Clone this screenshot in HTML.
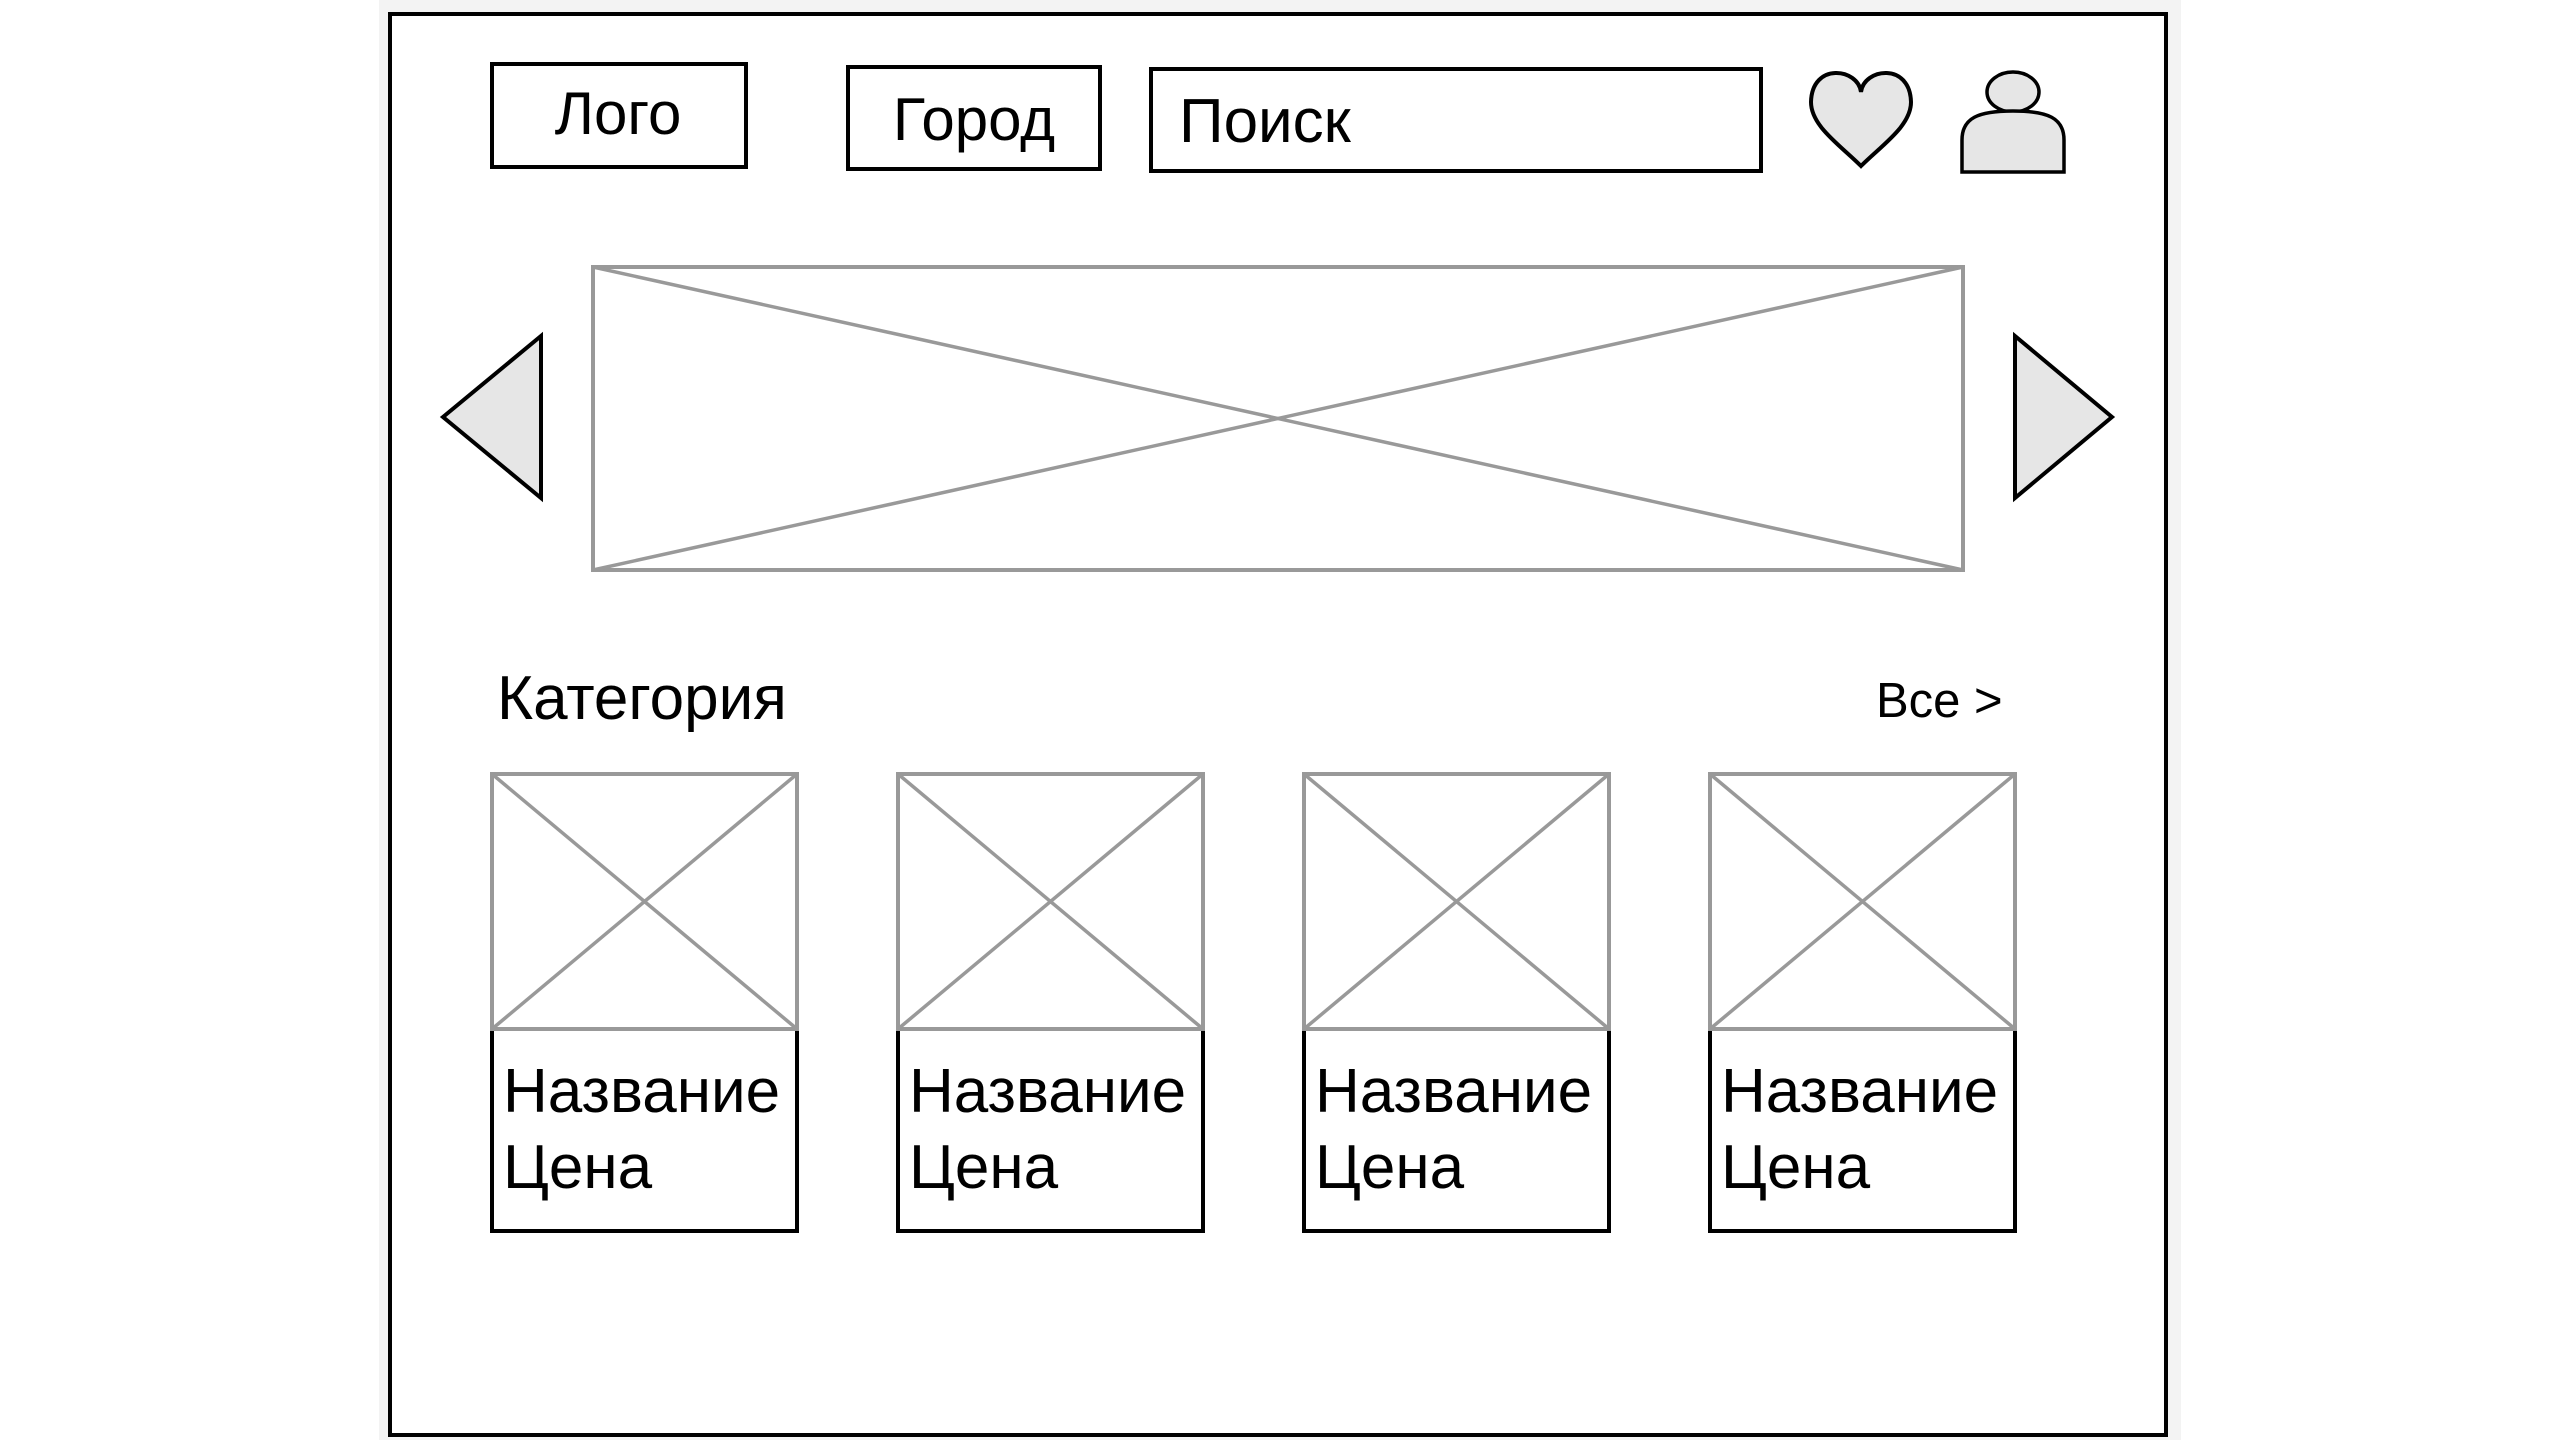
<!DOCTYPE html>
<html><head><meta charset="utf-8"><style>
html,body{margin:0;padding:0;background:#fff;width:2560px;height:1440px;overflow:hidden}
svg{display:block}
text{font-family:"Liberation Sans",Arial,sans-serif;fill:#000}
</style></head><body>
<svg width="2560" height="1440" viewBox="0 0 2560 1440" xmlns="http://www.w3.org/2000/svg">
<rect x="379" y="0" width="1802" height="1440" fill="#f3f3f3"/>
<rect x="390" y="14" width="1776" height="1421" fill="#fff" stroke="#000" stroke-width="4"/>
<!-- header -->
<rect x="492" y="64" width="254" height="103" fill="#fff" stroke="#000" stroke-width="4"/>
<text x="618" y="134" font-size="60" text-anchor="middle">Лого</text>
<rect x="848" y="67" width="252" height="102" fill="#fff" stroke="#000" stroke-width="4"/>
<text x="974" y="140" font-size="60" text-anchor="middle">Город</text>
<rect x="1151" y="69" width="610" height="102" fill="#fff" stroke="#000" stroke-width="4"/>
<text x="1179" y="142" font-size="62">Поиск</text>
<!-- heart -->
<path d="M1861,92 C1858,68 1812,62 1811,102 C1811,126 1840,145 1861,166 C1882,145 1911,126 1911,102 C1910,62 1864,68 1861,92 Z" fill="#e6e6e6" stroke="#000" stroke-width="4"/>
<!-- person -->
<ellipse cx="2013" cy="92" rx="26" ry="20" fill="#e6e6e6" stroke="#000" stroke-width="3.5"/>
<path d="M1962,172 L1962,140 C1962,118 1978,111 2013,111 C2048,111 2064,118 2064,140 L2064,172 Z" fill="#e6e6e6" stroke="#000" stroke-width="3.5"/>
<!-- banner -->
<rect x="593" y="267" width="1370" height="303" fill="#fff" stroke="#999" stroke-width="4"/>
<line x1="593" y1="267" x2="1963" y2="570" stroke="#999" stroke-width="3.5"/>
<line x1="593" y1="570" x2="1963" y2="267" stroke="#999" stroke-width="3.5"/>
<polygon points="443,417 541,336 541,498" fill="#e6e6e6" stroke="#000" stroke-width="4"/>
<polygon points="2112,417 2015,336 2015,498" fill="#e6e6e6" stroke="#000" stroke-width="4"/>
<!-- category -->
<text x="497" y="719" font-size="62">Категория</text>
<text x="1876" y="717" font-size="49">Все &gt;</text>
<g id="c1">
<rect x="492" y="1029" width="305" height="202" fill="#fff" stroke="#000" stroke-width="4"/>
<rect x="492" y="774" width="305" height="255" fill="#fff" stroke="#999" stroke-width="4"/>
<line x1="492" y1="774" x2="797" y2="1029" stroke="#999" stroke-width="3.5"/>
<line x1="492" y1="1029" x2="797" y2="774" stroke="#999" stroke-width="3.5"/>
<text x="503" y="1112" font-size="62">Название</text>
<text x="503" y="1188" font-size="62">Цена</text>
</g>
<use href="#c1" x="406"/>
<use href="#c1" x="812"/>
<use href="#c1" x="1218"/>
</svg>
</body></html>
